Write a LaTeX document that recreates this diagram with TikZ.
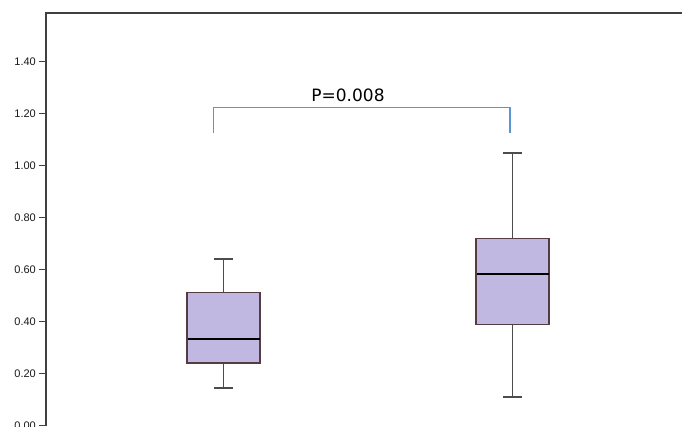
\documentclass[tikz,border=0pt]{standalone}
\usepackage{fontspec}
\setmainfont{Liberation Sans}
\newfontfamily\pfont{DejaVu Sans}
\usetikzlibrary{positioning}
\definecolor{boxfill}{RGB}{193,184,226}
\definecolor{boxline}{RGB}{85,60,65}
\definecolor{brackblue}{RGB}{91,150,210}

\begin{document}
\begin{tikzpicture}
	[x=1pt,y=260pt,
	axisline/.style={draw=black!75,line width=1.6pt},
	tickmark/.style={draw=black!75,line width=1.3pt},
	ticklabel/.style={anchor=east,inner sep=0pt,font=\fontsize{11}{12}\selectfont,text=black!90},
	boxbody/.style={fill=boxfill,draw=boxline,line width=1.5pt},
	whisk/.style={draw=black!70,line width=1.7pt},
	medline/.style={draw=black,line width=2.2pt},
	bracket/.style={draw=brackblue,line width=1.2pt}]
	\useasboundingbox (0,-0.0012) rectangle (682,1.6373);
	% axes
	\coordinate (origin) at (46,0);
	\coordinate (topleft) at (46,1.587);
	\coordinate (topright) at (684,1.587);
	\draw[axisline] (origin) -- (topleft) -- (topright);
	\foreach \v/\lab in {0/0.00,0.2/0.20,0.4/0.40,0.6/0.60,0.8/0.80,1.0/1.00,1.2/1.20,1.4/1.40}{
		\draw[tickmark] (39,\v) -- (46,\v);
		\node[ticklabel] (tick\lab) at (36,\v) {\lab};
	}
	% boxes
	\foreach \cx/\lo/\qa/\md/\qb/\hi in {223.5/0.144/0.242/0.332/0.512/0.641,512.5/0.11/0.39/0.583/0.72/1.05}{
		\draw[whisk] (\cx,\lo) -- (\cx,\qa);
		\draw[whisk] (\cx,\qb) -- (\cx,\hi);
		\draw[whisk] (\cx-9.5,\lo) -- (\cx+9.5,\lo);
		\draw[whisk] (\cx-9.5,\hi) -- (\cx+9.5,\hi);
		\draw[boxbody] (\cx-36.5,\qa) rectangle (\cx+36.5,\qb);
		\draw[medline] (\cx-36,\md) -- (\cx+36,\md);
	}
	% significance bracket
	\coordinate (bl) at (213.3,1.125);
	\coordinate (br) at (510,1.125);
	\draw[bracket] (bl) |- (361.7,1.223) -| (br);
	\node[font=\pfont\fontsize{17}{18}\selectfont,text=black,inner sep=0pt] (pval) at (348,1.271) {P=0.008};
\end{tikzpicture}
\end{document}
